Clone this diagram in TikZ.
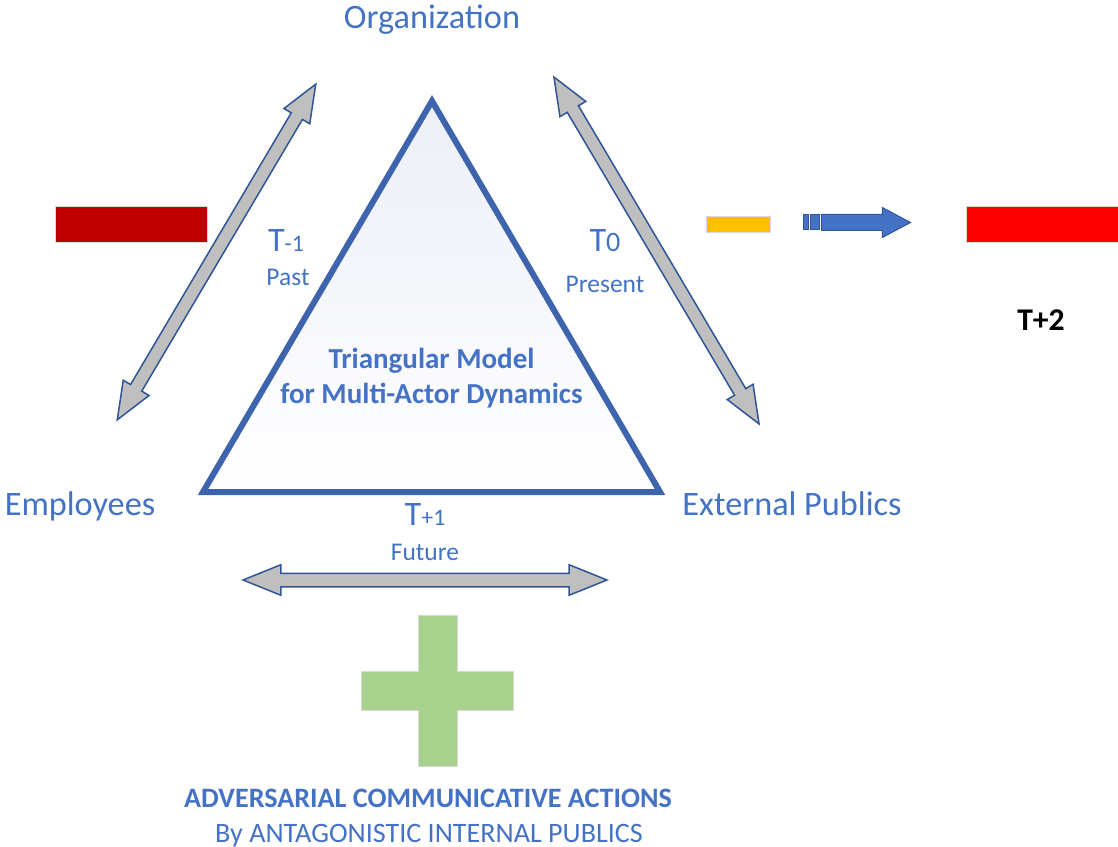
\documentclass[tikz,border=0pt]{standalone}
\usepackage{fontspec}
\setmainfont{Carlito}
\usepackage{tikz}
\usetikzlibrary{shapes.arrows}
\definecolor{txtblue}{HTML}{4472C4}
\definecolor{triblue}{HTML}{3F64AE}
\definecolor{edgeblue}{HTML}{2F5597}
\definecolor{linkgray}{HTML}{BFBFBF}
\definecolor{darkred}{HTML}{C00000}
\definecolor{amber}{HTML}{FFC000}
\definecolor{plusgreen}{HTML}{A9D18E}
\definecolor{triface}{HTML}{EDEFF8}
\newcommand{\sz}[1]{\fontsize{#1}{#1}\selectfont}

\begin{document}
\begin{tikzpicture}[
    x=0.02cm, y=-0.02cm,
    actor/.style={text=txtblue, inner sep=0pt, anchor=base, font=\sz{19.5}},
    phase/.style={text=txtblue, inner sep=0pt, anchor=base, font=\sz{14.5}},
    caption/.style={text=txtblue, inner sep=0pt, anchor=base, font=\sz{16}},
    link/.style={%
      double arrow,
      draw=edgeblue,
      fill=linkgray,
      line width=0.03cm,
      inner xsep=0pt,
      inner ysep=0.115cm,
      minimum width=0pt,
      double arrow head extend=0.17cm,
      double arrow tip angle=44,
    },
    bar/.style={draw=black!15, line width=0.02cm},
  ]
    \useasboundingbox (0,0) rectangle (1118,847);

    \draw [top color=triface, bottom color=white, draw=triblue,
      line width=0.12cm, line join=miter]
      (432,101) -- (203,492) -- (660,492) -- cycle;

    \node [link, minimum height=7.8cm, rotate=59.4] (past) at (216.5,252) {};
    \node [link, minimum height=8.06cm, rotate=-59.4] (present) at (656.5,250.5) {};
    \node [link, minimum height=7.28cm, inner ysep=0.12cm] (future) at (425,580) {};

    \node [actor] (org) at (432,29) {Organization};
    \node [actor] (emp) at (80,515) {Employees};
    \node [actor] (ext) at (792,515) {External Publics};

    \node [actor] (tpast) at (286,252) {T{\sz{13.5}-1}};
    \node [phase] (past-l) at (288,286) {Past};
    \node [actor] (tpres) at (605,252) {T{\sz{16}0}};
    \node [phase] (pres-l) at (605,293) {Present};
    \node [actor] (tfut) at (425,525) {T{\sz{13.5}+1}};
    \node [phase] (fut-l) at (425,560) {Future};

    \node [text=txtblue, inner sep=0pt, align=center, anchor=base,
      font=\bfseries\fontsize{16.5}{19.8}\selectfont] (model) at (431.5,403)
      {Triangular Model\\for Multi-Actor Dynamics};

    \draw [bar, fill=darkred] (55,207) rectangle (207,243);
    \draw [bar, fill=amber] (706,217) rectangle (770,233);
    \draw [bar, fill=red] (966,207) rectangle (1118,243);

    \draw [draw=edgeblue, fill=txtblue, line width=0.02cm] (803,215) rectangle (808,230);
    \draw [draw=edgeblue, fill=txtblue, line width=0.02cm] (810,215) rectangle (819,230);
    \node [single arrow, draw=edgeblue, fill=txtblue, line width=0.02cm,
      inner xsep=0pt, inner ysep=0.15cm, minimum width=0pt,
      minimum height=1.78cm, single arrow head extend=0.14cm,
      single arrow tip angle=56, anchor=tail] (shift) at (821,222.5) {};

    \node [inner sep=0pt, anchor=base, font=\bfseries\sz{18}] (tnext) at (1041,331) {T+2};

    \draw [bar, fill=plusgreen]
      (418,615) -- (457,615) -- (457,671) -- (513,671) -- (513,710)
      -- (457,710) -- (457,766) -- (418,766) -- (418,710) -- (361,710)
      -- (361,671) -- (418,671) -- cycle;

    \node [caption, font=\bfseries\sz{16}] (adv) at (428,807)
      {ADVERSARIAL COMMUNICATIVE ACTIONS};
    \node [caption] (antag) at (429,842) {By ANTAGONISTIC INTERNAL PUBLICS};
\end{tikzpicture}
\end{document}
